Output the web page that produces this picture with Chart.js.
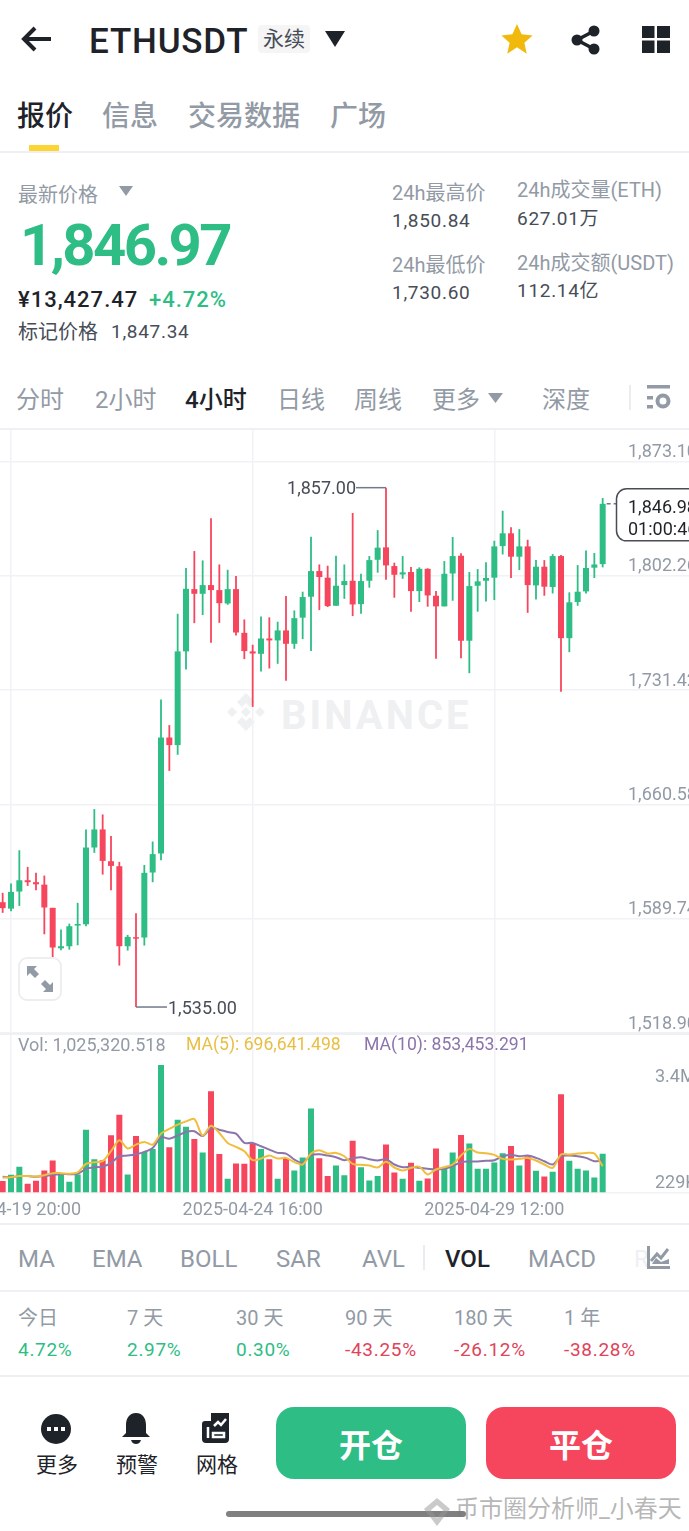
<!DOCTYPE html>
<html>
<head>
<meta charset="utf-8">
<script src="https://cdn.jsdelivr.net/npm/chart.js@4/dist/chart.umd.js"></script>
<style>
  html, body { margin: 0; padding: 0; background: #fff; }
  body { position: relative; width: 689px; height: 1531px; overflow: hidden; font-family: Roboto, "Noto Sans CJK SC", sans-serif; }
  .t { position: absolute; white-space: nowrap; transform: translateY(-50%); line-height: 1; }
  .gray { color: #929AA5; }
  .dark { color: #1E2329; }
  .mid { color: #474D57; }
  .green { color: #2EBD85; }
  .red { color: #E0435A; }
  .f24 { font-size: 24px; }
  .f20 { font-size: 20px; }
  .f19 { font-size: 19px; letter-spacing: .7px; }
  .rule { position: absolute; left: 0; width: 689px; height: 1.5px; background: #EEF0F3; }
  .ico { position: absolute; }
  canvas { position: absolute; left: 0; }
  .btn { position: absolute; top: 1407px; width: 190px; height: 72px; border-radius: 18px; color: #fff; font-size: 32px; font-weight: 700; text-align: center; line-height: 78px; }
</style>
</head>
<body>
<!-- header -->
<svg class="ico" style="left:20px;top:25px" width="34" height="28" viewBox="0 0 34 28"><path d="M15 3L4 14l11 11M4 14h27" fill="none" stroke="#1E2329" stroke-width="4"/></svg>
<div class="t dark" style="left:89px;top:41px;font-size:35px;font-weight:500;letter-spacing:.8px">ETHUSDT</div>
<div class="t mid" style="left:258px;top:39px;width:52px;height:28px;background:#F5F5F5;border-radius:4px;font-size:21px;line-height:28px;text-align:center">永续</div>
<svg class="ico" style="left:325px;top:31px" width="20" height="16"><path d="M0 0h20l-10 16z" fill="#1E2329"/></svg>
<svg class="ico" style="left:501px;top:23px" width="32" height="32" viewBox="0 0 32 32"><path d="M16 1l4.6 10.2 11 1.2-8.2 7.4 2.3 10.9L16 24.200l-9.700 6.500 2.300-10.900L.4 12.400l11-1.200z" fill="#F0B90B"/></svg>
<svg class="ico" style="left:570px;top:24px" width="32" height="32" viewBox="0 0 32 32"><path d="M24 7L7 16l17 9" fill="none" stroke="#1E2329" stroke-width="3.500"/><circle cx="24" cy="7" r="5.500" fill="#1E2329"/><circle cx="7" cy="16" r="5.500" fill="#1E2329"/><circle cx="24" cy="25" r="5.500" fill="#1E2329"/></svg>
<svg class="ico" style="left:642px;top:26px" width="28" height="27"><path d="M0 0h12.500v12H0zM15 0h13v12H15zM0 14.500h12.500V27H0zM15 14.500h13V27H15z" fill="#1E2329"/></svg>

<!-- tabs -->
<div class="t dark" style="left:17px;top:117px;font-size:28px;font-weight:500">报价</div>
<div class="t gray" style="left:102px;top:117px;font-size:28px;font-weight:500">信息</div>
<div class="t gray" style="left:188px;top:117px;font-size:28px;font-weight:500">交易数据</div>
<div class="t gray" style="left:330px;top:117px;font-size:28px;font-weight:500">广场</div>
<div style="position:absolute;left:29px;top:145px;width:30px;height:6px;background:#FCD535"></div>
<div class="rule" style="top:151px"></div>

<!-- price block -->
<div class="t gray f20" style="left:18px;top:195px">最新价格</div>
<svg class="ico" style="left:119px;top:186px" width="14" height="10"><path d="M0 0h14l-7 10z" fill="#929AA5"/></svg>
<div class="t green" style="left:20px;top:245px;font-size:58px;font-weight:700;letter-spacing:-2.600px">1,846.97</div>
<div class="t dark" style="left:18px;top:300px;font-size:22px;font-weight:500;letter-spacing:1px">¥13,427.47</div>
<div class="t green" style="left:149px;top:300px;font-size:22px;font-weight:500;letter-spacing:1px">+4.72%</div>
<div class="t mid f20" style="left:18px;top:332px">标记价格</div>
<div class="t mid f19" style="left:111px;top:331px">1,847.34</div>

<div class="t gray f20" style="left:392px;top:193px">24h最高价</div>
<div class="t mid f19" style="left:392px;top:220px">1,850.84</div>
<div class="t gray f20" style="left:392px;top:265px">24h最低价</div>
<div class="t mid f19" style="left:392px;top:292px">1,730.60</div>
<div class="t gray f20" style="left:517px;top:190px">24h成交量(ETH)</div>
<div class="t mid f19" style="left:517px;top:218px">627.01万</div>
<div class="t gray f20" style="left:517px;top:263px">24h成交额(USDT)</div>
<div class="t mid f19" style="left:517px;top:290px">112.14亿</div>

<!-- interval row -->
<div class="t gray f24" style="left:16px;top:400px">分时</div>
<div class="t gray f24" style="left:95px;top:400px">2小时</div>
<div class="t dark f24" style="left:185px;top:400px;font-weight:500">4小时</div>
<div class="t gray f24" style="left:277px;top:400px">日线</div>
<div class="t gray f24" style="left:354px;top:400px">周线</div>
<div class="t gray f24" style="left:432px;top:400px">更多</div>
<svg class="ico" style="left:488px;top:393px" width="15" height="10"><path d="M0 0h15l-7.500 10z" fill="#929AA5"/></svg>
<div class="t gray f24" style="left:542px;top:400px">深度</div>
<div style="position:absolute;left:629px;top:385px;width:1.500px;height:25px;background:#EAECEF"></div>
<svg class="ico" style="left:647px;top:385px" width="24" height="25"><path d="M0 0h23v3.500H0zM0 11h6v3.500H0zM0 20h6v3.500H0z" fill="#929AA5"/><circle cx="16" cy="16" r="5.500" fill="none" stroke="#929AA5" stroke-width="4"/></svg>
<div class="rule" style="top:428px"></div>

<!-- watermark sits under the transparent canvases -->
<svg class="ico" style="left:222px;top:690px" width="48" height="48" viewBox="0 0 48 48"><path d="M24 1l9 9-5 5-4-4-4 4-5-5zM10 15l5 5-5 5-5-5zM38 15l5 5-5 5-5-5zM24 15l5 5-5 5-5-5zM15 30l5-5 4 4 4-4 5 5-9 9z" fill="#EFF0F2" transform="translate(0 2)"/></svg>
<div class="t" style="left:281px;top:716px;font-size:40px;font-weight:700;color:#EFF0F2;letter-spacing:3px">BINANCE</div>

<canvas id="priceChart" style="top:430px" width="689" height="603"></canvas>
<canvas id="volChart" style="top:1033px" width="689" height="195"></canvas>
<div class="rule" style="top:1033px"></div>
<div class="rule" style="top:1223px"></div>

<!-- expand button -->
<div style="position:absolute;left:18px;top:957px;width:40px;height:40px;border:2px solid #EDEEF0;border-radius:9px;background:#fff"></div>
<svg class="ico" style="left:27px;top:966px" width="26" height="26" viewBox="0 0 26 26"><path d="M0 0h10l-3 3 5 5-4 4-5-5-3 3zM26 26H16l3-3-5-5 4-4 5 5 3-3z" fill="#929AA5"/></svg>

<!-- indicators -->
<div class="t gray f24" style="left:18px;top:1259px">MA</div>
<div class="t gray f24" style="left:92px;top:1259px">EMA</div>
<div class="t gray f24" style="left:180px;top:1259px">BOLL</div>
<div class="t gray f24" style="left:276px;top:1259px">SAR</div>
<div class="t gray f24" style="left:362px;top:1259px">AVL</div>
<div style="position:absolute;left:423px;top:1245px;width:1.500px;height:25px;background:#EAECEF"></div>
<div class="t dark f24" style="left:445px;top:1259px;font-weight:500">VOL</div>
<div class="t gray f24" style="left:528px;top:1259px">MACD</div>
<div class="t f24" style="left:634px;top:1259px;color:#EEF0F3">R</div>
<svg class="ico" style="left:647px;top:1246px" width="23" height="23" viewBox="0 0 23 23"><path d="M1.500 0v21.500H23" fill="none" stroke="#929AA5" stroke-width="3"/><path d="M4 15l6-7 4 4 7-9" fill="none" stroke="#929AA5" stroke-width="3"/><path d="M5 18h17v-5L14 16 9 12z" fill="#929AA5"/></svg>
<div class="rule" style="top:1290px"></div>

<!-- returns -->
<div class="t gray f20" style="left:18px;top:1318px">今日</div>
<div class="t gray f20" style="left:127px;top:1318px">7 天</div>
<div class="t gray f20" style="left:236px;top:1318px">30 天</div>
<div class="t gray f20" style="left:345px;top:1318px">90 天</div>
<div class="t gray f20" style="left:454px;top:1318px">180 天</div>
<div class="t gray f20" style="left:564px;top:1318px">1 年</div>
<div class="t green f19" style="left:18px;top:1349px">4.72%</div>
<div class="t green f19" style="left:127px;top:1349px">2.97%</div>
<div class="t green f19" style="left:236px;top:1349px">0.30%</div>
<div class="t red f19" style="left:345px;top:1349px">-43.25%</div>
<div class="t red f19" style="left:454px;top:1349px">-26.12%</div>
<div class="t red f19" style="left:564px;top:1349px">-38.28%</div>
<div class="rule" style="top:1375px"></div>

<!-- bottom bar -->
<svg class="ico" style="left:41px;top:1414px" width="30" height="30"><circle cx="15" cy="15" r="15" fill="#1E2329"/><path d="M6 13h4v4H6zM13 13h4v4h-4zM20 13h4v4h-4z" fill="#fff"/></svg>
<svg class="ico" style="left:122px;top:1413px" width="28" height="32" viewBox="0 0 28 32"><path d="M14 0c7 0 10 6 10 12v8l4 4H0l4-4v-8C4 6 7 0 14 0z" fill="#1E2329"/><path d="M9 27h10c-1 3-3 4-5 4s-4-1-5-4z" fill="#1E2329"/></svg>
<svg class="ico" style="left:202px;top:1413px" width="28" height="30" viewBox="0 0 28 30"><path d="M9 0h18v26q0 4-4 4H4q-4 0-4-4V11q0-3 3-3h6z" fill="#1E2329"/><path d="M12 13l4-4 3 3 5-6M6 14v11M11 20h11v4H11z" fill="none" stroke="#fff" stroke-width="2.500"/></svg>
<div class="t dark" style="left:36px;top:1465px;font-size:21px">更多</div>
<div class="t dark" style="left:116px;top:1465px;font-size:21px">预警</div>
<div class="t dark" style="left:196px;top:1465px;font-size:21px">网格</div>
<div class="btn" style="left:276px;background:#2EBD85">开仓</div>
<div class="btn" style="left:486px;background:#F6465D">平仓</div>
<div style="position:absolute;left:226px;top:1511px;width:240px;height:6px;border-radius:3px;background:#808080"></div>
<svg class="ico" style="left:423px;top:1497px" width="28" height="30" viewBox="0 0 28 30"><path d="M14 1l13 11-13 17L1 12zM14 8l6 5-6 8-6-8z" fill="rgba(150,150,150,.5)" fill-rule="evenodd"/></svg>
<div class="t" style="left:455px;top:1509px;font-size:24px;color:rgba(120,120,120,.55)">币市圈分析师_小春天</div>

<script>
// 4h candles, 2025-04-19 16:00 onwards
const opens = [1600.0, 1596.0, 1606.6, 1613.6, 1612.4, 1610.9, 1596.5, 1571.4, 1572.7, 1585.5,
  1586.3, 1633.9, 1645.1, 1625.4, 1622.3, 1572.7, 1578.3, 1578.1, 1618.4, 1630.2,
  1702.1, 1697.4, 1755.5, 1794.1, 1791.2, 1796.6, 1793.5, 1785.2, 1794.1, 1767.0,
  1755.5, 1754.0, 1763.5, 1762.3, 1768.5, 1760.2, 1776.4, 1789.4, 1805.3, 1801.2,
  1783.8, 1796.6, 1799.3, 1784.8, 1799.3, 1812.3, 1820.0, 1808.4, 1803.2, 1804.7,
  1792.9, 1806.7, 1790.0, 1783.4, 1803.8, 1814.8, 1762.1, 1796.2, 1799.3, 1801.2,
  1820.8, 1828.7, 1814.2, 1820.6, 1796.4, 1808.0, 1795.4, 1814.6, 1763.7, 1786.1,
  1792.7, 1807.4, 1809.6];
const closes = [1596.3, 1606.4, 1613.6, 1612.4, 1611.1, 1596.7, 1571.9, 1572.7, 1585.1, 1586.5,
  1633.9, 1645.1, 1625.6, 1622.5, 1572.7, 1578.5, 1577.4, 1618.2, 1629.8, 1702.1,
  1697.4, 1755.5, 1794.3, 1791.2, 1796.6, 1793.5, 1785.4, 1794.1, 1767.2, 1755.7,
  1754.2, 1763.5, 1762.3, 1768.5, 1760.2, 1776.1, 1789.2, 1805.3, 1801.6, 1783.6,
  1796.2, 1799.1, 1784.6, 1799.1, 1812.1, 1819.8, 1808.8, 1803.0, 1804.5, 1792.9,
  1806.7, 1790.2, 1783.4, 1803.6, 1814.6, 1762.1, 1796.0, 1798.9, 1801.0, 1820.6,
  1828.7, 1814.2, 1820.6, 1796.6, 1808.0, 1795.6, 1814.6, 1763.7, 1785.9, 1792.5,
  1807.2, 1809.4, 1846.98];
const highs = [1605.8, 1611.6, 1632.2, 1621.9, 1618.2, 1616.5, 1596.5, 1583.0, 1586.7, 1599.6,
  1645.1, 1657.7, 1654.4, 1641.1, 1625.0, 1579.7, 1593.2, 1623.1, 1637.6, 1725.7,
  1709.8, 1778.8, 1807.2, 1817.7, 1811.9, 1838.0, 1809.4, 1806.1, 1802.2, 1775.3,
  1759.6, 1777.2, 1776.6, 1773.9, 1789.8, 1780.9, 1792.5, 1826.6, 1809.4, 1808.6,
  1814.8, 1809.4, 1841.3, 1803.7, 1814.6, 1830.7, 1857.0, 1810.5, 1814.6, 1807.8,
  1807.6, 1807.0, 1792.9, 1811.5, 1826.4, 1816.3, 1804.7, 1806.5, 1810.7, 1824.1,
  1842.7, 1832.4, 1831.3, 1824.7, 1812.1, 1812.1, 1815.8, 1815.2, 1792.1, 1809.0,
  1818.1, 1816.5, 1850.6];
const lows = [1593.4, 1594.4, 1597.7, 1610.1, 1607.4, 1580.1, 1565.7, 1570.2, 1570.6, 1573.3,
  1585.1, 1630.6, 1617.1, 1607.4, 1560.7, 1570.0, 1535.0, 1573.1, 1612.4, 1626.0,
  1681.4, 1691.4, 1744.3, 1773.0, 1778.0, 1760.8, 1773.2, 1784.4, 1765.4, 1750.7,
  1721.1, 1743.0, 1744.9, 1747.8, 1737.3, 1757.1, 1763.1, 1755.7, 1781.1, 1783.0,
  1783.8, 1788.1, 1777.4, 1778.8, 1795.0, 1804.3, 1799.9, 1788.8, 1800.5, 1780.1,
  1786.1, 1783.2, 1750.9, 1783.4, 1786.9, 1751.3, 1742.0, 1780.1, 1786.5, 1787.3,
  1815.6, 1801.0, 1805.9, 1779.4, 1787.7, 1790.0, 1791.4, 1730.4, 1755.0, 1783.8,
  1791.4, 1801.0, 1807.6];

// volume and its moving averages, in thousands
const volumes = [300, 468, 680, 230, 309, 583, 848, 468, 283, 477,
  1669, 883, 857, 1519, 2066, 477, 1501, 1077, 1157, 3391,
  1201, 1934, 1748, 1422, 1060, 2693, 1024, 362, 768, 759,
  1307, 1157, 883, 362, 918, 583, 927, 2234, 909, 433,
  715, 459, 1377, 671, 318, 433, 1272, 530, 362, 786,
  309, 371, 1166, 627, 1060, 1528, 1298, 627, 627, 795,
  1042, 1236, 715, 962, 574, 424, 547, 2614, 839, 627,
  583, 397, 1025];
const ma5 = [389, 406, 433, 433, 424, 459, 512, 512, 494, 530,
  759, 804, 830, 1095, 1386, 1166, 1272, 1342, 1272, 1563,
  1687, 1801, 1890, 1951, 1510, 1775, 1581, 1316, 1210, 1095,
  857, 901, 980, 901, 918, 804, 742, 1033, 1121, 1033,
  1051, 962, 759, 733, 715, 662, 812, 662, 583, 653,
  680, 477, 609, 671, 742, 980, 1157, 1060, 1042, 998,
  892, 874, 892, 918, 848, 742, 653, 1007, 1007, 1033,
  1051, 1033, 697];
const ma10 = [415, 406, 433, 433, 415, 433, 468, 486, 486, 494,
  627, 671, 680, 786, 962, 980, 1015, 1077, 1183, 1466,
  1430, 1510, 1607, 1625, 1501, 1713, 1669, 1607, 1563, 1316,
  1316, 1227, 1139, 1051, 1033, 874, 786, 989, 1015, 980,
  936, 857, 909, 936, 883, 848, 883, 742, 671, 680,
  653, 627, 609, 627, 698, 804, 821, 821, 839, 857,
  962, 998, 962, 980, 918, 830, 742, 962, 980, 962,
  918, 830, 853];

const priceTicks = [1873.10, 1802.26, 1731.42, 1660.58, 1589.74, 1518.90];
const volTicks = [3400, 229];
const dateTicks = [1, 30, 59];
const dateLabels = ['2025-04-19 20:00', '2025-04-24 16:00', '2025-04-29 12:00'];

const GREEN = '#2EBD85', RED = '#F6465D', GRID = '#F1F2F5', LABEL = '#929AA5';
const xMin = -0.32, xMax = 82.36;
const barColors = opens.map((o, i) => closes[i] >= o ? GREEN : RED);
const fontFamily = 'Roboto, "Noto Sans CJK SC", sans-serif';

Chart.defaults.animation = false;
Chart.defaults.responsive = false;

// shared x scale: three date gridlines, the labels only on the volume pane
function xScale(showLabels) {
    return {
        type: 'linear',
        min: xMin,
        max: xMax,
        offset: false,
        border: { display: showLabels, color: GRID, width: 1.5 },
        grid: { color: GRID, lineWidth: 1.5, drawTicks: false, offset: false },
        afterBuildTicks: s => { s.ticks = dateTicks.map(v => ({ value: v })); },
        afterFit: s => { s.paddingLeft = 0; s.paddingRight = 0; },
        ticks: {
            display: showLabels,
            autoSkip: false,
            maxRotation: 0,
            padding: 7,
            color: LABEL,
            font: { family: fontFamily, size: 18 },
            callback: v => dateLabels[dateTicks.indexOf(v)]
        }
    };
}

// the y labels sit inside the plot, so the axis takes no room of its own
function flatAxis(s) {
    s.width = 0;
    s.paddingTop = 0;
    s.paddingBottom = 0;
}

// high / low callouts and the last price box
const priceMarks = {
    id: 'priceMarks',
    afterDatasetsDraw(chart) {
        const { ctx, scales: { x, y } } = chart;
        const iHigh = highs.indexOf(Math.max(...highs));
        const iLow = lows.indexOf(Math.min(...lows));
        const last = closes.length - 1;
        ctx.save();
        ctx.font = '18px ' + fontFamily;
        ctx.textBaseline = 'middle';
        ctx.strokeStyle = '#707A8A';
        ctx.lineWidth = 1.5;
        ctx.fillStyle = '#474D57';

        const hx = x.getPixelForValue(iHigh), hy = y.getPixelForValue(highs[iHigh]);
        ctx.beginPath(); ctx.moveTo(hx, hy); ctx.lineTo(hx - 30, hy); ctx.stroke();
        ctx.textAlign = 'right';
        ctx.fillText('1,857.00', hx - 30, hy + 2);

        const lx = x.getPixelForValue(iLow), ly = y.getPixelForValue(lows[iLow]);
        ctx.beginPath(); ctx.moveTo(lx, ly); ctx.lineTo(lx + 31, ly); ctx.stroke();
        ctx.textAlign = 'left';
        ctx.fillText('1,535.00', lx + 32, ly + 2);

        const py = y.getPixelForValue(closes[last]);
        const px = x.getPixelForValue(last);
        ctx.setLineDash([4, 3]);
        ctx.beginPath(); ctx.moveTo(px + 4, py); ctx.lineTo(616, py); ctx.stroke();
        ctx.setLineDash([]);
        ctx.fillStyle = '#fff';
        ctx.strokeStyle = '#474D57';
        ctx.beginPath(); ctx.roundRect(616.500, py - 15, 100, 52, 10); ctx.fill(); ctx.stroke();
        ctx.fillStyle = '#1E2329';
        ctx.fillText('1,846.98', 628, py + 5);
        ctx.fillText('01:00:46', 628, py + 27);
        ctx.restore();
    }
};

new Chart(document.getElementById('priceChart'), {
    data: {
        datasets: [
            {
                type: 'bar',
                label: 'body',
                order: 1,
                grouped: false,
                maxBarThickness: 6.4,
                backgroundColor: barColors,
                data: opens.map((o, i) => ({ x: i, y: [o, closes[i]] }))
            },
            {
                type: 'bar',
                label: 'wick',
                order: 2,
                grouped: false,
                maxBarThickness: 1.8,
                backgroundColor: barColors,
                data: lows.map((l, i) => ({ x: i, y: [l, highs[i]] }))
            }
        ]
    },
    options: {
        layout: { padding: 0 },
        plugins: { legend: { display: false }, tooltip: { enabled: false } },
        scales: {
            x: xScale(false),
            y: {
                position: 'left',
                min: 1518.90,
                max: 1892.76,
                border: { display: false },
                grid: { color: GRID, lineWidth: 1.5, drawTicks: false },
                afterBuildTicks: s => { s.ticks = priceTicks.map(v => ({ value: v })); },
                afterFit: flatAxis,
                ticks: {
                    mirror: true,
                    padding: 628,
                    color: LABEL,
                    font: { family: fontFamily, size: 18, lineHeight: 1 },
                    // blank second line lifts the label above its gridline
                    callback: v => [v.toLocaleString('en-US', { minimumFractionDigits: 2 }), '']
                }
            }
        }
    },
    plugins: [priceMarks]
});

// legend line of the volume pane, drawn with the chart
const volLegend = {
    id: 'volLegend',
    afterDraw(chart) {
        const { ctx } = chart;
        ctx.save();
        ctx.textBaseline = 'middle';
        ctx.font = '18px ' + fontFamily;
        ctx.fillStyle = LABEL;
        ctx.fillText('Vol: 1,025,320.518', 18, 13);
        ctx.font = '17.6px ' + fontFamily;
        ctx.fillStyle = '#E9BE45';
        ctx.fillText('MA(5): 696,641.498', 186, 13);
        ctx.fillStyle = '#8C74AC';
        ctx.fillText('MA(10): 853,453.291', 364, 13);
        ctx.restore();
    }
};

new Chart(document.getElementById('volChart'), {
    data: {
        datasets: [
            {
                type: 'line',
                label: 'MA(10)',
                order: 1,
                borderColor: '#8C74AC',
                borderWidth: 2,
                pointRadius: 0,
                tension: 0.3,
                data: ma10.map((v, i) => ({ x: i, y: v }))
            },
            {
                type: 'line',
                label: 'MA(5)',
                order: 0,
                borderColor: '#F0BE3C',
                borderWidth: 2,
                pointRadius: 0,
                tension: 0.3,
                data: ma5.map((v, i) => ({ x: i, y: v }))
            },
            {
                type: 'bar',
                label: 'Vol',
                order: 2,
                grouped: false,
                maxBarThickness: 6.4,
                backgroundColor: barColors,
                data: volumes.map((v, i) => ({ x: i, y: v }))
            }
        ]
    },
    options: {
        layout: { padding: 0 },
        plugins: { legend: { display: false }, tooltip: { enabled: false } },
        scales: {
            x: xScale(true),
            y: {
                position: 'left',
                min: 0,
                max: 4240,
                border: { display: false },
                grid: { display: false, drawTicks: false },
                afterBuildTicks: s => { s.ticks = volTicks.map(v => ({ value: v })); },
                afterFit: flatAxis,
                ticks: {
                    mirror: true,
                    padding: 655,
                    color: LABEL,
                    font: { family: fontFamily, size: 18, lineHeight: 1.45 },
                    // 3.4M hangs below the top of the pane, 229K sits on its own level
                    callback: v => v >= 1000 ? ['', (v / 1000).toFixed(1) + 'M'] : v + 'K'
                }
            }
        }
    },
    plugins: [volLegend]
});
</script>
</body>
</html>
